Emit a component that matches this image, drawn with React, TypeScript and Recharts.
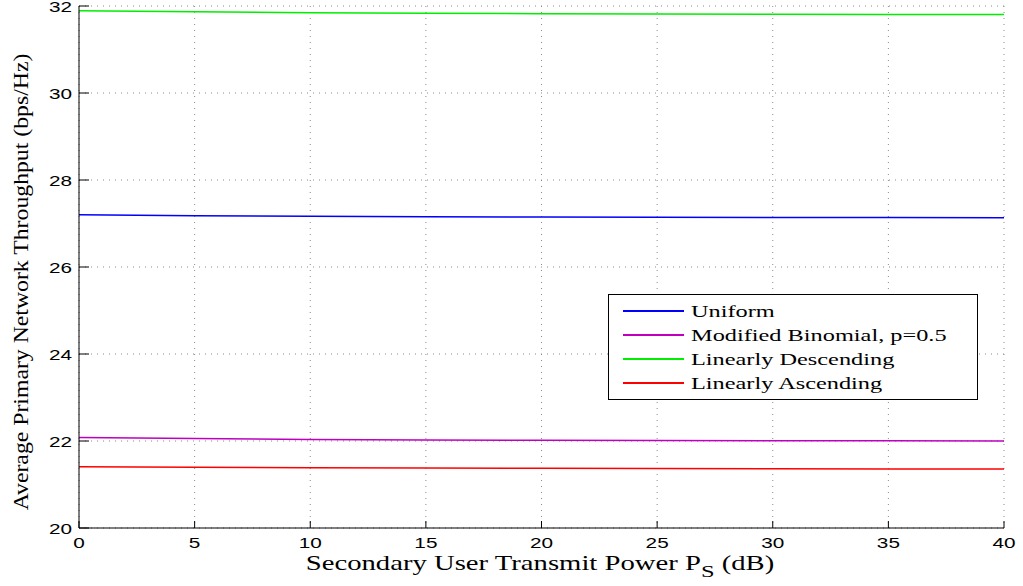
import { LineChart, Line, XAxis, YAxis, CartesianGrid, Legend } from "recharts";

const powerDb = [0, 5, 10, 15, 20, 25, 30, 35, 40];
const uniform = [27.2, 27.18, 27.165, 27.155, 27.148, 27.143, 27.14, 27.137, 27.135];
const binomial = [22.08, 22.055, 22.035, 22.025, 22.017, 22.012, 22.008, 22.005, 22.0];
const descending = [31.89, 31.865, 31.845, 31.833, 31.824, 31.817, 31.811, 31.806, 31.802];
const ascending = [21.41, 21.395, 21.385, 21.377, 21.371, 21.366, 21.362, 21.359, 21.356];

const seriesNames = ["Uniform", "Modified Binomial, p=0.5", "Linearly Descending", "Linearly Ascending"];
const xTicks = [0, 5, 10, 15, 20, 25, 30, 35, 40];
const yTicks = [20, 22, 24, 26, 28, 30, 32];

const data = powerDb.map((x, i) => ({
  x,
  uniform: uniform[i],
  binomial: binomial[i],
  descending: descending[i],
  ascending: ascending[i],
}));

// the original figure is stretched sideways, so its text is too
const SX = 1.43;
const tickFont = { fontFamily: "'Liberation Sans', Arial, sans-serif", fontSize: 14.5, fill: "#000" };
const serif = "'Liberation Serif', 'Times New Roman', serif";

function XTick(props: any) {
  const { x, y, payload } = props;
  return (
    <text transform={`translate(${x},${y + 9}) scale(${SX},1)`} textAnchor="middle" {...tickFont}>
      {payload.value}
    </text>
  );
}

function YTick(props: any) {
  const { x, y, payload } = props;
  return (
    <text transform={`translate(${x},${y + 6}) scale(${SX},1)`} textAnchor="end" {...tickFont}>
      {payload.value}
    </text>
  );
}

const noTick = () => <g />;

function LegendBox(props: any) {
  const items = [...(props.payload || [])].sort(
    (a: any, b: any) => seriesNames.indexOf(a.value) - seriesNames.indexOf(b.value)
  );
  return (
    <div
      style={{
        width: 368,
        height: 100,
        border: "1px solid #000",
        background: "#fff",
        paddingTop: 4,
        boxSizing: "content-box",
      }}
    >
      {items.map((it: any) => (
        <div key={it.value} style={{ height: 24, position: "relative" }}>
          <div style={{ position: "absolute", left: 14, top: 11, width: 61, height: 2, background: it.color }} />
          <span
            style={{
              position: "absolute",
              left: 82,
              top: 0,
              lineHeight: "24px",
              fontFamily: serif,
              fontSize: 17.5,
              color: "#000",
              whiteSpace: "nowrap",
              transform: "scaleX(1.39)",
              transformOrigin: "left center",
            }}
          >
            {it.value}
          </span>
        </div>
      ))}
    </div>
  );
}

export default function App() {
  return (
    <div style={{ position: "absolute", left: 0, top: 0, background: "#fff" }}>
      <LineChart width={1023} height={586} data={data} margin={{ top: 6, right: 19, left: 0, bottom: 0 }}>
        <CartesianGrid stroke="#8a8a8a" strokeDasharray="1 5" />
        <XAxis
          dataKey="x"
          type="number"
          domain={[0, 40]}
          ticks={xTicks}
          height={58}
          axisLine={{ stroke: "#000" }}
          tickLine={{ stroke: "#000" }}
          tickSize={-7}
          tickMargin={18}
          tick={<XTick />}
          interval={0}
          label={{
            content: () => (
              <text transform="translate(540,570) scale(1.4,1)" textAnchor="middle" fontFamily={serif} fontSize={20.5} fill="#000">
                Secondary User Transmit Power P
                <tspan fontSize={17.5} dy={7}>S</tspan>
                <tspan dy={-7}> (dB)</tspan>
              </text>
            ),
          }}
        />
        <XAxis
          xAxisId="top"
          orientation="top"
          dataKey="x"
          type="number"
          domain={[0, 40]}
          ticks={xTicks}
          height={0}
          axisLine={{ stroke: "#000" }}
          tickLine={{ stroke: "#000" }}
          tickSize={-7}
          tick={noTick}
          interval={0}
        />
        <YAxis
          type="number"
          domain={[20, 32]}
          ticks={yTicks}
          width={79}
          axisLine={{ stroke: "#000" }}
          tickLine={{ stroke: "#000" }}
          tickSize={-10}
          tickMargin={17}
          tick={<YTick />}
          interval={0}
          label={{
            content: () => (
              <text transform="translate(28,282) rotate(-90) scale(1.32,1.2)" textAnchor="middle" fontFamily={serif} fontSize={18} fill="#000">
                Average Primary Network Throughput (bps/Hz)
              </text>
            ),
          }}
        />
        <YAxis
          yAxisId="right"
          orientation="right"
          type="number"
          domain={[20, 32]}
          ticks={yTicks}
          width={0}
          axisLine={{ stroke: "#000" }}
          tickLine={{ stroke: "#000" }}
          tickSize={-10}
          tick={noTick}
          interval={0}
        />
        <Legend
          layout="vertical"
          align="center"
          verticalAlign="middle"
          content={<LegendBox />}
          wrapperStyle={{ left: 608, top: 294, width: 370 }}
        />
        <Line name={seriesNames[0]} dataKey="uniform" stroke="#0000ff" strokeWidth={1.5} dot={false} isAnimationActive={false} />
        <Line name={seriesNames[1]} dataKey="binomial" stroke="#c000c0" strokeWidth={1.5} dot={false} isAnimationActive={false} />
        <Line name={seriesNames[2]} dataKey="descending" stroke="#00ee00" strokeWidth={1.5} dot={false} isAnimationActive={false} />
        <Line name={seriesNames[3]} dataKey="ascending" stroke="#ff0000" strokeWidth={1.5} dot={false} isAnimationActive={false} />
      </LineChart>
    </div>
  );
}
